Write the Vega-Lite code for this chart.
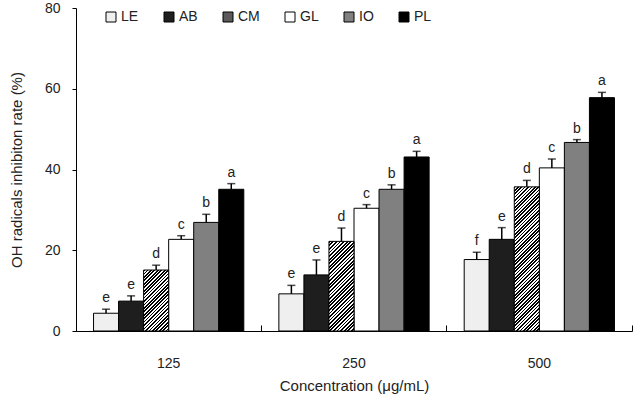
{
  "$schema": "https://vega.github.io/schema/vega-lite/v6.json",
  "width": 556,
  "height": 323,
  "autosize": "none",
  "padding": {"left": 76, "top": 8, "right": 9, "bottom": 69},
  "background": "white",
  "config": {
    "view": {"stroke": null},
    "font": "Liberation Sans",
    "axis": {"grid": false, "domainColor": "black", "tickColor": "black", "labelColor": "#222", "titleColor": "#222", "labelFont": "Liberation Sans", "titleFont": "Liberation Sans", "titleFontWeight": "normal"}
  },
  "data": {
    "values": [
      {"conc": "125", "series": "LE", "value": 4.4, "upper": 5.4, "letter": "e"},
      {"conc": "125", "series": "AB", "value": 7.4, "upper": 8.7, "letter": "e"},
      {"conc": "125", "series": "CM", "value": 15.1, "upper": 16.3, "letter": "d"},
      {"conc": "125", "series": "GL", "value": 22.7, "upper": 23.6, "letter": "c"},
      {"conc": "125", "series": "IO", "value": 26.9, "upper": 28.9, "letter": "b"},
      {"conc": "125", "series": "PL", "value": 35.1, "upper": 36.5, "letter": "a"},
      {"conc": "250", "series": "LE", "value": 9.2, "upper": 11.3, "letter": "e"},
      {"conc": "250", "series": "AB", "value": 13.9, "upper": 17.6, "letter": "e"},
      {"conc": "250", "series": "CM", "value": 22.2, "upper": 25.5, "letter": "d"},
      {"conc": "250", "series": "GL", "value": 30.4, "upper": 31.3, "letter": "c"},
      {"conc": "250", "series": "IO", "value": 35.1, "upper": 36.2, "letter": "b"},
      {"conc": "250", "series": "PL", "value": 43.1, "upper": 44.5, "letter": "a"},
      {"conc": "500", "series": "LE", "value": 17.7, "upper": 19.5, "letter": "f"},
      {"conc": "500", "series": "AB", "value": 22.7, "upper": 25.6, "letter": "e"},
      {"conc": "500", "series": "CM", "value": 35.7, "upper": 37.3, "letter": "d"},
      {"conc": "500", "series": "GL", "value": 40.4, "upper": 42.6, "letter": "c"},
      {"conc": "500", "series": "IO", "value": 46.7, "upper": 47.4, "letter": "b"},
      {"conc": "500", "series": "PL", "value": 57.8, "upper": 59.1, "letter": "a"}
    ]
  },
  "encoding": {
    "x": {
      "field": "conc", "type": "nominal", "sort": ["125", "250", "500"],
      "scale": {"paddingInner": 0, "paddingOuter": 0},
      "title": "Concentration (μg/mL)",
      "axis": {"labelAngle": 0, "bandPosition": 1, "tickExtra": true, "tickSize": -6, "tickWidth": 1, "labelPadding": 31, "labelFontSize": 14, "titleFontSize": 15, "titlePadding": 8, "domainWidth": 1}
    },
    "xOffset": {
      "field": "series", "type": "nominal",
      "scale": {"domain": ["LE", "AB", "CM", "GL", "IO", "PL"], "paddingInner": 0, "paddingOuter": 0.7}
    }
  },
  "layer": [
    {
      "transform": [{"filter": "datum.series !== 'CM'"}],
      "mark": {"type": "bar", "stroke": "black", "strokeWidth": 1},
      "encoding": {
        "y": {
          "field": "value", "type": "quantitative", "title": "OH radicals inhibiton rate (%)",
          "scale": {"domain": [0, 80], "nice": false},
          "axis": {"values": [0, 20, 40, 60, 80], "tickSize": 4, "labelPadding": 12, "labelFontSize": 14, "titleFontSize": 15, "titlePadding": 20}
        },
        "color": {
          "field": "series", "type": "nominal",
          "scale": {
            "domain": ["LE", "AB", "CM", "GL", "IO", "PL"],
            "range": ["#efefef", "#1e1e1e", "#5a5a5a", "#ffffff", "#808080", "#000000"]
          },
          "legend": {
            "orient": "none", "legendX": 28, "legendY": 2, "direction": "horizontal", "columns": 6,
            "title": null, "padding": 0, "symbolType": "square", "symbolSize": 100,
            "symbolStrokeColor": "black", "symbolStrokeWidth": 1, "labelFontSize": 14,
            "labelFont": "Liberation Sans", "labelColor": "#222", "labelOffset": 3, "columnPadding": 23,
            "encoding": {
              "symbols": {
                "update": {
                  "stroke": {"value": "black"},
                  "strokeWidth": {"value": 1}
                }
              }
            }
          }
        }
      }
    },
    {
      "transform": [{"filter": "datum.series === 'CM' && datum.conc === '125'"}],
      "mark": {"type": "bar", "stroke": "black", "strokeWidth": 1,
        "fill": {"gradient": "linear", "x1": 0, "y1": 0, "x2": 0.4959, "y2": 1.2071, "stops": [
          {"offset": 0, "color": "#000"},
          {"offset": 0.02, "color": "#000"}, {"offset": 0.02, "color": "#fff"},
          {"offset": 0.04, "color": "#fff"}, {"offset": 0.04, "color": "#000"},
          {"offset": 0.06, "color": "#000"}, {"offset": 0.06, "color": "#fff"},
          {"offset": 0.08, "color": "#fff"}, {"offset": 0.08, "color": "#000"},
          {"offset": 0.10, "color": "#000"}, {"offset": 0.10, "color": "#fff"},
          {"offset": 0.12, "color": "#fff"}, {"offset": 0.12, "color": "#000"},
          {"offset": 0.14, "color": "#000"}, {"offset": 0.14, "color": "#fff"},
          {"offset": 0.16, "color": "#fff"}, {"offset": 0.16, "color": "#000"},
          {"offset": 0.18, "color": "#000"}, {"offset": 0.18, "color": "#fff"},
          {"offset": 0.20, "color": "#fff"}, {"offset": 0.20, "color": "#000"},
          {"offset": 0.22, "color": "#000"}, {"offset": 0.22, "color": "#fff"},
          {"offset": 0.24, "color": "#fff"}, {"offset": 0.24, "color": "#000"},
          {"offset": 0.26, "color": "#000"}, {"offset": 0.26, "color": "#fff"},
          {"offset": 0.28, "color": "#fff"}, {"offset": 0.28, "color": "#000"},
          {"offset": 0.30, "color": "#000"}, {"offset": 0.30, "color": "#fff"},
          {"offset": 0.32, "color": "#fff"}, {"offset": 0.32, "color": "#000"},
          {"offset": 0.34, "color": "#000"}, {"offset": 0.34, "color": "#fff"},
          {"offset": 0.36, "color": "#fff"}, {"offset": 0.36, "color": "#000"},
          {"offset": 0.38, "color": "#000"}, {"offset": 0.38, "color": "#fff"},
          {"offset": 0.40, "color": "#fff"}, {"offset": 0.40, "color": "#000"},
          {"offset": 0.42, "color": "#000"}, {"offset": 0.42, "color": "#fff"},
          {"offset": 0.44, "color": "#fff"}, {"offset": 0.44, "color": "#000"},
          {"offset": 0.46, "color": "#000"}, {"offset": 0.46, "color": "#fff"},
          {"offset": 0.48, "color": "#fff"}, {"offset": 0.48, "color": "#000"},
          {"offset": 0.50, "color": "#000"}, {"offset": 0.50, "color": "#fff"},
          {"offset": 0.52, "color": "#fff"}, {"offset": 0.52, "color": "#000"},
          {"offset": 0.54, "color": "#000"}, {"offset": 0.54, "color": "#fff"},
          {"offset": 0.56, "color": "#fff"}, {"offset": 0.56, "color": "#000"},
          {"offset": 0.58, "color": "#000"}, {"offset": 0.58, "color": "#fff"},
          {"offset": 0.60, "color": "#fff"}, {"offset": 0.60, "color": "#000"},
          {"offset": 0.62, "color": "#000"}, {"offset": 0.62, "color": "#fff"},
          {"offset": 0.64, "color": "#fff"}, {"offset": 0.64, "color": "#000"},
          {"offset": 0.66, "color": "#000"}, {"offset": 0.66, "color": "#fff"},
          {"offset": 0.68, "color": "#fff"}, {"offset": 0.68, "color": "#000"},
          {"offset": 0.70, "color": "#000"}, {"offset": 0.70, "color": "#fff"},
          {"offset": 0.72, "color": "#fff"}, {"offset": 0.72, "color": "#000"},
          {"offset": 0.74, "color": "#000"}, {"offset": 0.74, "color": "#fff"},
          {"offset": 0.76, "color": "#fff"}, {"offset": 0.76, "color": "#000"},
          {"offset": 0.78, "color": "#000"}, {"offset": 0.78, "color": "#fff"},
          {"offset": 0.80, "color": "#fff"}, {"offset": 0.80, "color": "#000"},
          {"offset": 0.82, "color": "#000"}, {"offset": 0.82, "color": "#fff"},
          {"offset": 0.84, "color": "#fff"}, {"offset": 0.84, "color": "#000"},
          {"offset": 0.86, "color": "#000"}, {"offset": 0.86, "color": "#fff"},
          {"offset": 0.88, "color": "#fff"}, {"offset": 0.88, "color": "#000"},
          {"offset": 0.90, "color": "#000"}, {"offset": 0.90, "color": "#fff"},
          {"offset": 0.92, "color": "#fff"}, {"offset": 0.92, "color": "#000"},
          {"offset": 0.94, "color": "#000"}, {"offset": 0.94, "color": "#fff"},
          {"offset": 0.96, "color": "#fff"}, {"offset": 0.96, "color": "#000"},
          {"offset": 0.98, "color": "#000"}, {"offset": 0.98, "color": "#fff"},
          {"offset": 1, "color": "#fff"}
        ]}
      },
      "encoding": {"y": {"field": "value", "type": "quantitative", "title": "OH radicals inhibiton rate (%)"}}
    },
    {
      "transform": [{"filter": "datum.series === 'CM' && datum.conc === '250'"}],
      "mark": {"type": "bar", "stroke": "black", "strokeWidth": 1,
        "fill": {"gradient": "linear", "x1": 0, "y1": 0, "x2": 0.3317, "y2": 1.1868, "stops": [
          {"offset": 0, "color": "#000"},
          {"offset": 0.015625, "color": "#000"}, {"offset": 0.015625, "color": "#fff"},
          {"offset": 0.03125, "color": "#fff"}, {"offset": 0.03125, "color": "#000"},
          {"offset": 0.046875, "color": "#000"}, {"offset": 0.046875, "color": "#fff"},
          {"offset": 0.0625, "color": "#fff"}, {"offset": 0.0625, "color": "#000"},
          {"offset": 0.078125, "color": "#000"}, {"offset": 0.078125, "color": "#fff"},
          {"offset": 0.09375, "color": "#fff"}, {"offset": 0.09375, "color": "#000"},
          {"offset": 0.109375, "color": "#000"}, {"offset": 0.109375, "color": "#fff"},
          {"offset": 0.125, "color": "#fff"}, {"offset": 0.125, "color": "#000"},
          {"offset": 0.140625, "color": "#000"}, {"offset": 0.140625, "color": "#fff"},
          {"offset": 0.15625, "color": "#fff"}, {"offset": 0.15625, "color": "#000"},
          {"offset": 0.171875, "color": "#000"}, {"offset": 0.171875, "color": "#fff"},
          {"offset": 0.1875, "color": "#fff"}, {"offset": 0.1875, "color": "#000"},
          {"offset": 0.203125, "color": "#000"}, {"offset": 0.203125, "color": "#fff"},
          {"offset": 0.21875, "color": "#fff"}, {"offset": 0.21875, "color": "#000"},
          {"offset": 0.234375, "color": "#000"}, {"offset": 0.234375, "color": "#fff"},
          {"offset": 0.25, "color": "#fff"}, {"offset": 0.25, "color": "#000"},
          {"offset": 0.265625, "color": "#000"}, {"offset": 0.265625, "color": "#fff"},
          {"offset": 0.28125, "color": "#fff"}, {"offset": 0.28125, "color": "#000"},
          {"offset": 0.296875, "color": "#000"}, {"offset": 0.296875, "color": "#fff"},
          {"offset": 0.3125, "color": "#fff"}, {"offset": 0.3125, "color": "#000"},
          {"offset": 0.328125, "color": "#000"}, {"offset": 0.328125, "color": "#fff"},
          {"offset": 0.34375, "color": "#fff"}, {"offset": 0.34375, "color": "#000"},
          {"offset": 0.359375, "color": "#000"}, {"offset": 0.359375, "color": "#fff"},
          {"offset": 0.375, "color": "#fff"}, {"offset": 0.375, "color": "#000"},
          {"offset": 0.390625, "color": "#000"}, {"offset": 0.390625, "color": "#fff"},
          {"offset": 0.40625, "color": "#fff"}, {"offset": 0.40625, "color": "#000"},
          {"offset": 0.421875, "color": "#000"}, {"offset": 0.421875, "color": "#fff"},
          {"offset": 0.4375, "color": "#fff"}, {"offset": 0.4375, "color": "#000"},
          {"offset": 0.453125, "color": "#000"}, {"offset": 0.453125, "color": "#fff"},
          {"offset": 0.46875, "color": "#fff"}, {"offset": 0.46875, "color": "#000"},
          {"offset": 0.484375, "color": "#000"}, {"offset": 0.484375, "color": "#fff"},
          {"offset": 0.5, "color": "#fff"}, {"offset": 0.5, "color": "#000"},
          {"offset": 0.515625, "color": "#000"}, {"offset": 0.515625, "color": "#fff"},
          {"offset": 0.53125, "color": "#fff"}, {"offset": 0.53125, "color": "#000"},
          {"offset": 0.546875, "color": "#000"}, {"offset": 0.546875, "color": "#fff"},
          {"offset": 0.5625, "color": "#fff"}, {"offset": 0.5625, "color": "#000"},
          {"offset": 0.578125, "color": "#000"}, {"offset": 0.578125, "color": "#fff"},
          {"offset": 0.59375, "color": "#fff"}, {"offset": 0.59375, "color": "#000"},
          {"offset": 0.609375, "color": "#000"}, {"offset": 0.609375, "color": "#fff"},
          {"offset": 0.625, "color": "#fff"}, {"offset": 0.625, "color": "#000"},
          {"offset": 0.640625, "color": "#000"}, {"offset": 0.640625, "color": "#fff"},
          {"offset": 0.65625, "color": "#fff"}, {"offset": 0.65625, "color": "#000"},
          {"offset": 0.671875, "color": "#000"}, {"offset": 0.671875, "color": "#fff"},
          {"offset": 0.6875, "color": "#fff"}, {"offset": 0.6875, "color": "#000"},
          {"offset": 0.703125, "color": "#000"}, {"offset": 0.703125, "color": "#fff"},
          {"offset": 0.71875, "color": "#fff"}, {"offset": 0.71875, "color": "#000"},
          {"offset": 0.734375, "color": "#000"}, {"offset": 0.734375, "color": "#fff"},
          {"offset": 0.75, "color": "#fff"}, {"offset": 0.75, "color": "#000"},
          {"offset": 0.765625, "color": "#000"}, {"offset": 0.765625, "color": "#fff"},
          {"offset": 0.78125, "color": "#fff"}, {"offset": 0.78125, "color": "#000"},
          {"offset": 0.796875, "color": "#000"}, {"offset": 0.796875, "color": "#fff"},
          {"offset": 0.8125, "color": "#fff"}, {"offset": 0.8125, "color": "#000"},
          {"offset": 0.828125, "color": "#000"}, {"offset": 0.828125, "color": "#fff"},
          {"offset": 0.84375, "color": "#fff"}, {"offset": 0.84375, "color": "#000"},
          {"offset": 0.859375, "color": "#000"}, {"offset": 0.859375, "color": "#fff"},
          {"offset": 0.875, "color": "#fff"}, {"offset": 0.875, "color": "#000"},
          {"offset": 0.890625, "color": "#000"}, {"offset": 0.890625, "color": "#fff"},
          {"offset": 0.90625, "color": "#fff"}, {"offset": 0.90625, "color": "#000"},
          {"offset": 0.921875, "color": "#000"}, {"offset": 0.921875, "color": "#fff"},
          {"offset": 0.9375, "color": "#fff"}, {"offset": 0.9375, "color": "#000"},
          {"offset": 0.953125, "color": "#000"}, {"offset": 0.953125, "color": "#fff"},
          {"offset": 0.96875, "color": "#fff"}, {"offset": 0.96875, "color": "#000"},
          {"offset": 0.984375, "color": "#000"}, {"offset": 0.984375, "color": "#fff"},
          {"offset": 1, "color": "#fff"}
        ]}
      },
      "encoding": {"y": {"field": "value", "type": "quantitative", "title": "OH radicals inhibiton rate (%)"}}
    },
    {
      "transform": [{"filter": "datum.series === 'CM' && datum.conc === '500'"}],
      "mark": {"type": "bar", "stroke": "black", "strokeWidth": 1,
        "fill": {"gradient": "linear", "x1": 0, "y1": 0, "x2": 0.198, "y2": 1.1394, "stops": [
          {"offset": 0, "color": "#000"},
          {"offset": 0.01, "color": "#000"}, {"offset": 0.01, "color": "#fff"},
          {"offset": 0.02, "color": "#fff"}, {"offset": 0.02, "color": "#000"},
          {"offset": 0.03, "color": "#000"}, {"offset": 0.03, "color": "#fff"},
          {"offset": 0.04, "color": "#fff"}, {"offset": 0.04, "color": "#000"},
          {"offset": 0.05, "color": "#000"}, {"offset": 0.05, "color": "#fff"},
          {"offset": 0.06, "color": "#fff"}, {"offset": 0.06, "color": "#000"},
          {"offset": 0.07, "color": "#000"}, {"offset": 0.07, "color": "#fff"},
          {"offset": 0.08, "color": "#fff"}, {"offset": 0.08, "color": "#000"},
          {"offset": 0.09, "color": "#000"}, {"offset": 0.09, "color": "#fff"},
          {"offset": 0.10, "color": "#fff"}, {"offset": 0.10, "color": "#000"},
          {"offset": 0.11, "color": "#000"}, {"offset": 0.11, "color": "#fff"},
          {"offset": 0.12, "color": "#fff"}, {"offset": 0.12, "color": "#000"},
          {"offset": 0.13, "color": "#000"}, {"offset": 0.13, "color": "#fff"},
          {"offset": 0.14, "color": "#fff"}, {"offset": 0.14, "color": "#000"},
          {"offset": 0.15, "color": "#000"}, {"offset": 0.15, "color": "#fff"},
          {"offset": 0.16, "color": "#fff"}, {"offset": 0.16, "color": "#000"},
          {"offset": 0.17, "color": "#000"}, {"offset": 0.17, "color": "#fff"},
          {"offset": 0.18, "color": "#fff"}, {"offset": 0.18, "color": "#000"},
          {"offset": 0.19, "color": "#000"}, {"offset": 0.19, "color": "#fff"},
          {"offset": 0.20, "color": "#fff"}, {"offset": 0.20, "color": "#000"},
          {"offset": 0.21, "color": "#000"}, {"offset": 0.21, "color": "#fff"},
          {"offset": 0.22, "color": "#fff"}, {"offset": 0.22, "color": "#000"},
          {"offset": 0.23, "color": "#000"}, {"offset": 0.23, "color": "#fff"},
          {"offset": 0.24, "color": "#fff"}, {"offset": 0.24, "color": "#000"},
          {"offset": 0.25, "color": "#000"}, {"offset": 0.25, "color": "#fff"},
          {"offset": 0.26, "color": "#fff"}, {"offset": 0.26, "color": "#000"},
          {"offset": 0.27, "color": "#000"}, {"offset": 0.27, "color": "#fff"},
          {"offset": 0.28, "color": "#fff"}, {"offset": 0.28, "color": "#000"},
          {"offset": 0.29, "color": "#000"}, {"offset": 0.29, "color": "#fff"},
          {"offset": 0.30, "color": "#fff"}, {"offset": 0.30, "color": "#000"},
          {"offset": 0.31, "color": "#000"}, {"offset": 0.31, "color": "#fff"},
          {"offset": 0.32, "color": "#fff"}, {"offset": 0.32, "color": "#000"},
          {"offset": 0.33, "color": "#000"}, {"offset": 0.33, "color": "#fff"},
          {"offset": 0.34, "color": "#fff"}, {"offset": 0.34, "color": "#000"},
          {"offset": 0.35, "color": "#000"}, {"offset": 0.35, "color": "#fff"},
          {"offset": 0.36, "color": "#fff"}, {"offset": 0.36, "color": "#000"},
          {"offset": 0.37, "color": "#000"}, {"offset": 0.37, "color": "#fff"},
          {"offset": 0.38, "color": "#fff"}, {"offset": 0.38, "color": "#000"},
          {"offset": 0.39, "color": "#000"}, {"offset": 0.39, "color": "#fff"},
          {"offset": 0.40, "color": "#fff"}, {"offset": 0.40, "color": "#000"},
          {"offset": 0.41, "color": "#000"}, {"offset": 0.41, "color": "#fff"},
          {"offset": 0.42, "color": "#fff"}, {"offset": 0.42, "color": "#000"},
          {"offset": 0.43, "color": "#000"}, {"offset": 0.43, "color": "#fff"},
          {"offset": 0.44, "color": "#fff"}, {"offset": 0.44, "color": "#000"},
          {"offset": 0.45, "color": "#000"}, {"offset": 0.45, "color": "#fff"},
          {"offset": 0.46, "color": "#fff"}, {"offset": 0.46, "color": "#000"},
          {"offset": 0.47, "color": "#000"}, {"offset": 0.47, "color": "#fff"},
          {"offset": 0.48, "color": "#fff"}, {"offset": 0.48, "color": "#000"},
          {"offset": 0.49, "color": "#000"}, {"offset": 0.49, "color": "#fff"},
          {"offset": 0.50, "color": "#fff"}, {"offset": 0.50, "color": "#000"},
          {"offset": 0.51, "color": "#000"}, {"offset": 0.51, "color": "#fff"},
          {"offset": 0.52, "color": "#fff"}, {"offset": 0.52, "color": "#000"},
          {"offset": 0.53, "color": "#000"}, {"offset": 0.53, "color": "#fff"},
          {"offset": 0.54, "color": "#fff"}, {"offset": 0.54, "color": "#000"},
          {"offset": 0.55, "color": "#000"}, {"offset": 0.55, "color": "#fff"},
          {"offset": 0.56, "color": "#fff"}, {"offset": 0.56, "color": "#000"},
          {"offset": 0.57, "color": "#000"}, {"offset": 0.57, "color": "#fff"},
          {"offset": 0.58, "color": "#fff"}, {"offset": 0.58, "color": "#000"},
          {"offset": 0.59, "color": "#000"}, {"offset": 0.59, "color": "#fff"},
          {"offset": 0.60, "color": "#fff"}, {"offset": 0.60, "color": "#000"},
          {"offset": 0.61, "color": "#000"}, {"offset": 0.61, "color": "#fff"},
          {"offset": 0.62, "color": "#fff"}, {"offset": 0.62, "color": "#000"},
          {"offset": 0.63, "color": "#000"}, {"offset": 0.63, "color": "#fff"},
          {"offset": 0.64, "color": "#fff"}, {"offset": 0.64, "color": "#000"},
          {"offset": 0.65, "color": "#000"}, {"offset": 0.65, "color": "#fff"},
          {"offset": 0.66, "color": "#fff"}, {"offset": 0.66, "color": "#000"},
          {"offset": 0.67, "color": "#000"}, {"offset": 0.67, "color": "#fff"},
          {"offset": 0.68, "color": "#fff"}, {"offset": 0.68, "color": "#000"},
          {"offset": 0.69, "color": "#000"}, {"offset": 0.69, "color": "#fff"},
          {"offset": 0.70, "color": "#fff"}, {"offset": 0.70, "color": "#000"},
          {"offset": 0.71, "color": "#000"}, {"offset": 0.71, "color": "#fff"},
          {"offset": 0.72, "color": "#fff"}, {"offset": 0.72, "color": "#000"},
          {"offset": 0.73, "color": "#000"}, {"offset": 0.73, "color": "#fff"},
          {"offset": 0.74, "color": "#fff"}, {"offset": 0.74, "color": "#000"},
          {"offset": 0.75, "color": "#000"}, {"offset": 0.75, "color": "#fff"},
          {"offset": 0.76, "color": "#fff"}, {"offset": 0.76, "color": "#000"},
          {"offset": 0.77, "color": "#000"}, {"offset": 0.77, "color": "#fff"},
          {"offset": 0.78, "color": "#fff"}, {"offset": 0.78, "color": "#000"},
          {"offset": 0.79, "color": "#000"}, {"offset": 0.79, "color": "#fff"},
          {"offset": 0.80, "color": "#fff"}, {"offset": 0.80, "color": "#000"},
          {"offset": 0.81, "color": "#000"}, {"offset": 0.81, "color": "#fff"},
          {"offset": 0.82, "color": "#fff"}, {"offset": 0.82, "color": "#000"},
          {"offset": 0.83, "color": "#000"}, {"offset": 0.83, "color": "#fff"},
          {"offset": 0.84, "color": "#fff"}, {"offset": 0.84, "color": "#000"},
          {"offset": 0.85, "color": "#000"}, {"offset": 0.85, "color": "#fff"},
          {"offset": 0.86, "color": "#fff"}, {"offset": 0.86, "color": "#000"},
          {"offset": 0.87, "color": "#000"}, {"offset": 0.87, "color": "#fff"},
          {"offset": 0.88, "color": "#fff"}, {"offset": 0.88, "color": "#000"},
          {"offset": 0.89, "color": "#000"}, {"offset": 0.89, "color": "#fff"},
          {"offset": 0.90, "color": "#fff"}, {"offset": 0.90, "color": "#000"},
          {"offset": 0.91, "color": "#000"}, {"offset": 0.91, "color": "#fff"},
          {"offset": 0.92, "color": "#fff"}, {"offset": 0.92, "color": "#000"},
          {"offset": 0.93, "color": "#000"}, {"offset": 0.93, "color": "#fff"},
          {"offset": 0.94, "color": "#fff"}, {"offset": 0.94, "color": "#000"},
          {"offset": 0.95, "color": "#000"}, {"offset": 0.95, "color": "#fff"},
          {"offset": 0.96, "color": "#fff"}, {"offset": 0.96, "color": "#000"},
          {"offset": 0.97, "color": "#000"}, {"offset": 0.97, "color": "#fff"},
          {"offset": 0.98, "color": "#fff"}, {"offset": 0.98, "color": "#000"},
          {"offset": 0.99, "color": "#000"}, {"offset": 0.99, "color": "#fff"},
          {"offset": 1, "color": "#fff"}
        ]}
      },
      "encoding": {"y": {"field": "value", "type": "quantitative", "title": "OH radicals inhibiton rate (%)"}}
    },
    {
      "mark": {"type": "rule", "color": "black", "strokeWidth": 1.5},
      "encoding": {
        "y": {"field": "value", "type": "quantitative", "title": "OH radicals inhibiton rate (%)"},
        "y2": {"field": "upper"}
      }
    },
    {
      "mark": {"type": "tick", "color": "black", "thickness": 1.5, "size": 8},
      "encoding": {"y": {"field": "upper", "type": "quantitative", "title": "OH radicals inhibiton rate (%)"}}
    },
    {
      "mark": {"type": "text", "baseline": "alphabetic", "dy": -7, "fontSize": 14, "font": "Liberation Sans", "color": "#222"},
      "encoding": {
        "y": {"field": "upper", "type": "quantitative", "title": "OH radicals inhibiton rate (%)"},
        "text": {"field": "letter"}
      }
    }
  ]
}
